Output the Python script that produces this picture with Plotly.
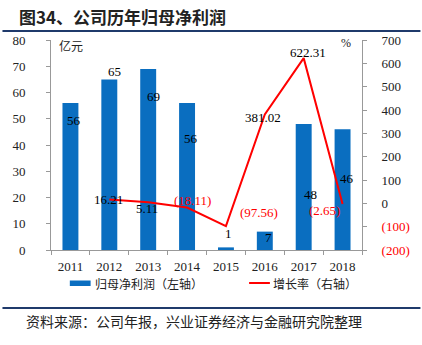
import plotly.graph_objects as go

years = ['2011', '2012', '2013', '2014', '2015', '2016', '2017', '2018']
profit = [56, 65, 69, 56, 1, 7, 48, 46]
growth = [None, 16.21, 5.11, -18.11, -97.56, 381.02, 622.31, -2.65]
left_ticks = [0, 10, 20, 30, 40, 50, 60, 70, 80]
right_ticks = [-200, -100, 0, 100, 200, 300, 400, 500, 600, 700]

# label offsets (px) relative to data points
profit_shift = [(4, -17), (5, 8), (5, -28), (4, -35), (3, 14), (4, -6), (7, -70), (4, -49)]
growth_shift = [None, (-1, 0), (-1, -6), (5, 7), (33, 14), (-2, -3), (4, 6), (-18, -7)]

W, H = 422, 345
L, R, T, B = 49, 363, 40, 250
NUM_FONT = "Liberation Serif, Noto Sans CJK SC, serif"
CJK_FONT = "Noto Sans CJK SC, sans-serif"
BLUE = "#0A6EC0"
RED = "#FF0000"
NAVY = "#1F3A6B"


def px(x):
    return (x - L) / (R - L)


def py(y):
    return (B - y) / (B - T)


def fmt(v):
    if v < 0:
        return "(%.2f)" % abs(v)
    return "%.2f" % v


def rtick(v):
    if v < 0:
        return "<span style='color:#FF0000'>(%d)</span>" % abs(v)
    return str(v)


fig = go.Figure()
fig.add_trace(go.Bar(x=years, y=profit, marker=dict(color=BLUE, line=dict(width=0)),
                     width=0.41, name="归母净利润（左轴）", showlegend=False))
fig.add_trace(go.Scatter(x=years, y=growth, yaxis="y2", mode="lines",
                         line=dict(color=RED, width=2), name="增长率（右轴）",
                         showlegend=False, connectgaps=False))

ann = []
for i, (v, (dx, dy)) in enumerate(zip(profit, profit_shift)):
    ann.append(dict(x=i, y=v, xref="x", yref="y", text=str(v), showarrow=False,
                    xshift=dx, yshift=dy, font=dict(family=NUM_FONT, size=13, color="#000")))
for i, (g, s) in enumerate(zip(growth, growth_shift)):
    if g is None:
        continue
    ann.append(dict(x=i, y=g, xref="x", yref="y2", text=fmt(g), showarrow=False,
                    xshift=s[0], yshift=s[1],
                    font=dict(family=NUM_FONT, size=13, color=RED if g < 0 else "#000")))

# title, units, legend, source
ann.append(dict(x=px(15), y=py(17), xref="paper", yref="paper", xanchor="left", yanchor="middle",
                text="<b>图34、公司历年归母净利润</b>", showarrow=False,
                font=dict(family=CJK_FONT, size=17, color="#222")))
ann.append(dict(x=px(69), y=py(45), xref="paper", yref="paper", xanchor="center", yanchor="middle",
                text="亿元", showarrow=False, font=dict(family=CJK_FONT, size=12, color="#222")))
ann.append(dict(x=px(347), y=py(43), xref="paper", yref="paper", xanchor="center", yanchor="middle",
                text="%", showarrow=False, font=dict(family=NUM_FONT, size=12, color="#222")))
ann.append(dict(x=px(91), y=py(283), xref="paper", yref="paper", xanchor="left", yanchor="middle",
                text="归母净利润（左轴）", showarrow=False, font=dict(family=CJK_FONT, size=12, color="#222")))
ann.append(dict(x=px(271), y=py(283), xref="paper", yref="paper", xanchor="left", yanchor="middle",
                text="增长率（右轴）", showarrow=False, font=dict(family=CJK_FONT, size=12, color="#222")))
ann.append(dict(x=px(22), y=py(321), xref="paper", yref="paper", xanchor="left", yanchor="middle",
                text="资料来源：公司年报，兴业证券经济与金融研究院整理", showarrow=False,
                font=dict(family=CJK_FONT, size=14, color="#222")))

shapes = [
    dict(type="line", xref="paper", yref="paper", x0=px(0), x1=px(W), y0=py(31), y1=py(31),
         line=dict(color=NAVY, width=2)),
    dict(type="line", xref="paper", yref="paper", x0=px(0), x1=px(W), y0=py(308), y1=py(308),
         line=dict(color=NAVY, width=2)),
    dict(type="rect", xref="paper", yref="paper", x0=px(68), x1=px(89), y0=py(286), y1=py(280.5),
         fillcolor=BLUE, line=dict(width=0)),
    dict(type="line", xref="paper", yref="paper", x0=px(249), x1=px(270), y0=py(283), y1=py(283),
         line=dict(color=RED, width=2)),
]

axis_col = "#999999"
fig.update_layout(
    width=W, height=H, autosize=False,
    margin=dict(l=L, r=W - R, t=T, b=H - B, pad=0),
    paper_bgcolor="white", plot_bgcolor="white",
    showlegend=False, bargap=0.59,
    annotations=ann, shapes=shapes,
    xaxis=dict(type="category", categoryorder="array", categoryarray=years,
               range=[-0.5, len(years) - 0.5], autorange=False,
               showline=True, linecolor=axis_col, linewidth=1,
               ticks="outside", ticklen=4, tickcolor=axis_col, tickson="boundaries",
               showgrid=False, tickfont=dict(family=NUM_FONT, size=13, color="#222"),
               ticklabelstandoff=4),
    yaxis=dict(range=[0, 80], tickvals=left_ticks, ticktext=[str(t) for t in left_ticks],
               showline=True, linecolor=axis_col, linewidth=1, ticks="outside", ticklen=4,
               tickcolor=axis_col, showgrid=False, zeroline=False,
               tickfont=dict(family=NUM_FONT, size=13, color="#222"), ticklabelstandoff=18),
    yaxis2=dict(range=[-200, 700], overlaying="y", side="right", tickvals=right_ticks,
                ticktext=[rtick(t) for t in right_ticks],
                showline=True, linecolor=axis_col, linewidth=1, ticks="outside", ticklen=4,
                tickcolor=axis_col, showgrid=False, zeroline=False,
                tickfont=dict(family=NUM_FONT, size=13, color="#222"), ticklabelstandoff=12),
)

fig.write_html("out.html")
